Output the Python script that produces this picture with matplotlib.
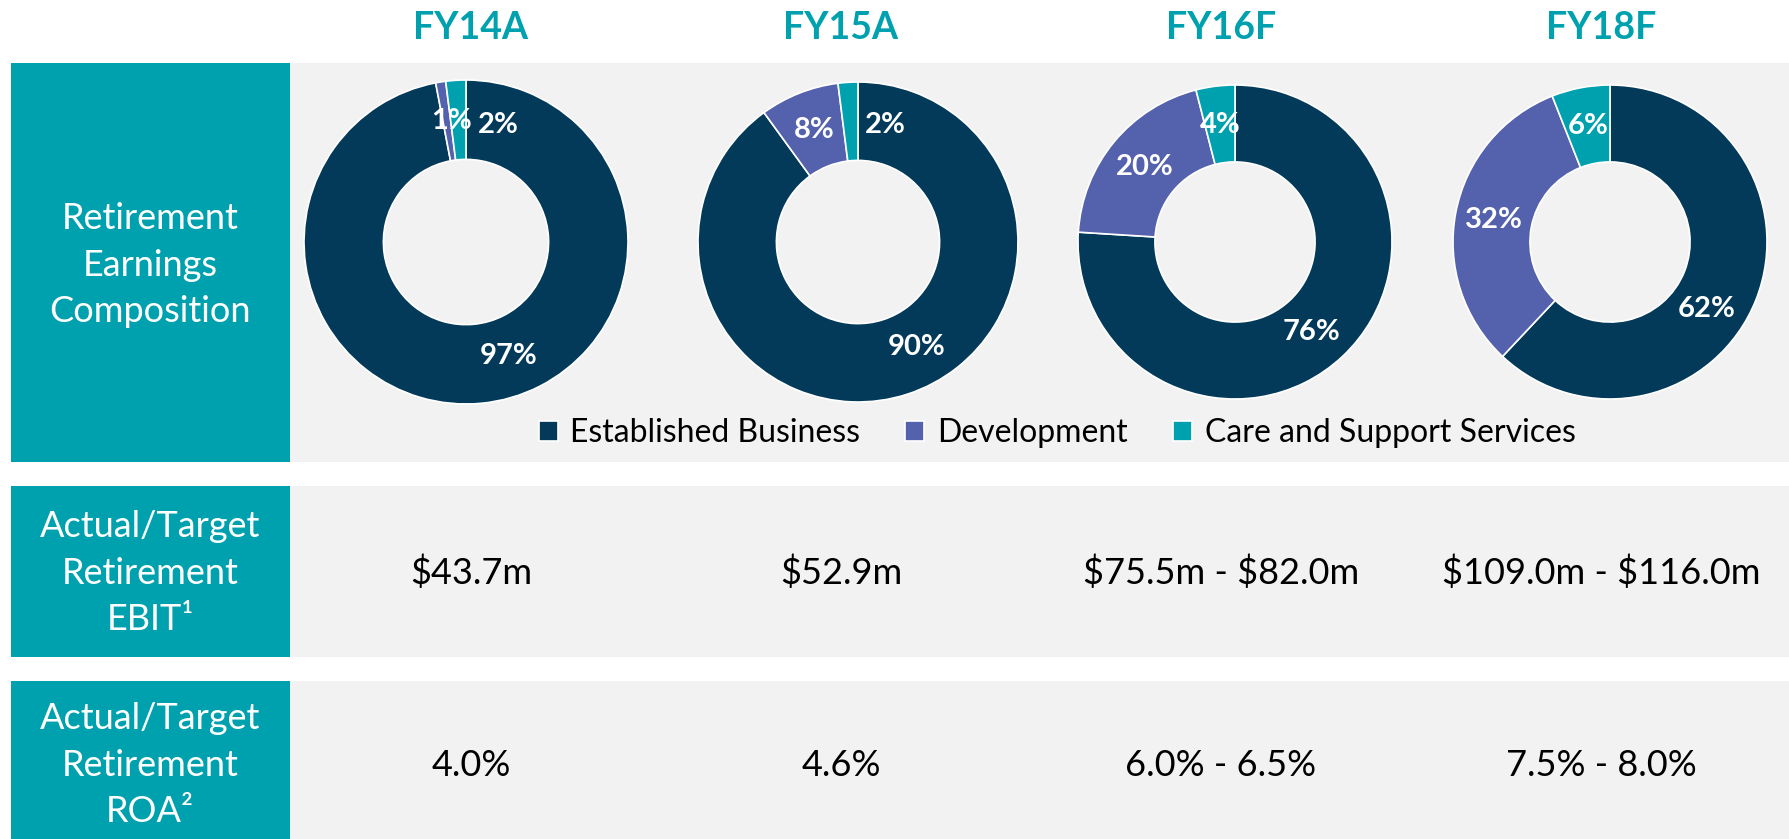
import matplotlib.pyplot as plt
from matplotlib.patches import Rectangle
import numpy as np

plt.rcParams['font.family'] = ['Lato', 'DejaVu Sans']

# Data
years = ["FY14A", "FY15A", "FY16F", "FY18F"]
segments = ["Established Business", "Development", "Care and Support Services"]
established = [97, 90, 76, 62]
development = [1, 8, 20, 32]
care = [2, 2, 4, 6]
ebit = ["$43.7m", "$52.9m", "$75.5m - $82.0m", "$109.0m - $116.0m"]
roa = ["4.0%", "4.6%", "6.0% - 6.5%", "7.5% - 8.0%"]
row_titles = ["Retirement\nEarnings\nComposition",
              "Actual/Target\nRetirement\nEBIT\u00b9",
              "Actual/Target\nRetirement\nROA\u00b2"]

# Style
NAVY = "#033A5A"
PURPLE = "#5461AC"
TEAL = "#00A1AF"
GRAY = "#F2F2F2"
colors = [NAVY, PURPLE, TEAL]

W, H = 1790, 839
def Y(y):
    return H - y

fig = plt.figure(figsize=(W / 100, H / 100), dpi=100)
ax = fig.add_axes([0, 0, 1, 1])

# bands (top, bottom) in pixels from top
bands = [(63, 462), (486, 657), (681, 839)]
for top, bot in bands:
    ax.add_patch(Rectangle((11, Y(bot)), 279, bot - top, color=TEAL, lw=0))
    ax.add_patch(Rectangle((290, Y(bot)), W - 290, bot - top, color=GRAY, lw=0))

title_y = [265, 573, 765]
for t, yy in zip(row_titles, title_y):
    ax.text(150, Y(yy), t, ha="center", va="center", color="white",
            fontsize=26, linespacing=1.5)

col_x = [471, 841, 1221, 1601]
for x, yr in zip(col_x, years):
    ax.text(x, Y(28), yr, ha="center", va="center", color=TEAL,
            fontsize=27, fontweight="bold")

for x, e, r in zip(col_x, ebit, roa):
    ax.text(x, Y(573), e, ha="center", va="center", color="black", fontsize=26,
            parse_math=False)
    ax.text(x, Y(765), r, ha="center", va="center", color="black", fontsize=26,
            parse_math=False)

# donuts
centers = [466, 858, 1235, 1610]
radii = [162, 160, 157, 157]
# label angle nudges (deg, clockwise) for [established, development, care]
nudges = [(-15, 2, 19), (-11, 0, 17), (3, 0, 0), (13, 0, 0)]
wedges_first = None
for i in range(4):
    vals = [established[i], development[i], care[i]]
    R = radii[i]
    cx, cy = centers[i], Y(242)
    wedges, _ = ax.pie(vals, colors=colors, startangle=90, counterclock=False,
                       radius=R, center=(cx, cy),
                       wedgeprops=dict(width=R * 0.49, edgecolor="white", linewidth=1.2))
    if wedges_first is None:
        wedges_first = wedges
    total = sum(vals)
    start = 0.0
    for j, v in enumerate(vals):
        mid = start + v / total * 360 / 2 + nudges[i][j]
        start += v / total * 360
        rl = R * 0.75
        lx = cx + rl * np.sin(np.radians(mid))
        ly = cy + rl * np.cos(np.radians(mid))
        ax.text(lx, ly, f"{v}%", ha="center", va="center", color="white",
                fontsize=21, fontweight="bold")

ax.legend(wedges_first, segments, loc="center", bbox_to_anchor=(1057 / W, Y(433) / H),
          ncol=3, frameon=False, fontsize=23, handlelength=0.6, handleheight=0.6,
          handletextpad=0.4, columnspacing=1.4)

ax.set_xlim(0, W)
ax.set_ylim(0, H)
ax.set_aspect("equal")
ax.axis("off")

plt.savefig("out.png", dpi=100, facecolor="white")
